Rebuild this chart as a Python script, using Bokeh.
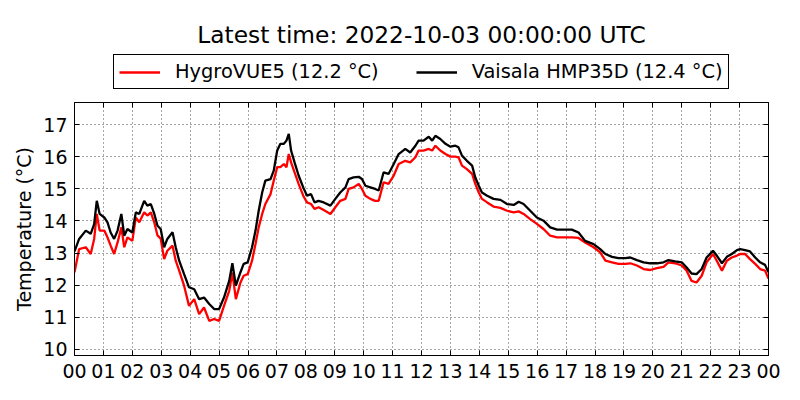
from bokeh.plotting import figure
from bokeh.models import Legend, LegendItem, Label, LinearAxis, FixedTicker, Range1d
from bokeh.layouts import column
from bokeh.embed import file_html
from bokeh.resources import INLINE

# ---- data (hours since 2022-10-02 00:00 UTC) ----
hours = [
    0.00, 0.16, 0.39, 0.56, 0.68, 0.77, 0.87, 1.03, 1.14, 1.25,
    1.37, 1.49, 1.62, 1.72, 1.83, 2.00, 2.12, 2.24, 2.41, 2.52,
    2.64, 2.76, 2.87, 2.98, 3.10, 3.21, 3.39, 3.50, 3.62, 3.79,
    3.96, 4.14, 4.31, 4.48, 4.66, 4.83, 5.00, 5.17, 5.35, 5.46,
    5.58, 5.74, 5.85, 5.99, 6.14, 6.26, 6.37, 6.49, 6.60, 6.78,
    6.89, 7.01, 7.12, 7.24, 7.33, 7.41, 7.49, 7.61, 7.75, 7.91,
    8.04, 8.18, 8.30, 8.44, 8.62, 8.85, 9.02, 9.19, 9.37, 9.48,
    9.65, 9.83, 9.94, 10.06, 10.23, 10.40, 10.52, 10.69, 10.86, 11.04,
    11.21, 11.44, 11.61, 11.79, 11.90, 12.07, 12.25, 12.37, 12.48, 12.65,
    12.83, 13.00, 13.17, 13.28, 13.40, 13.57, 13.75, 13.86, 13.98, 14.09,
    14.27, 14.49, 14.73, 14.96, 15.19, 15.36, 15.53, 15.76, 15.99, 16.22,
    16.45, 16.69, 16.91, 17.20, 17.43, 17.66, 17.95, 18.18, 18.36, 18.59,
    18.81, 19.05, 19.22, 19.45, 19.68, 19.91, 20.14, 20.37, 20.54, 20.77,
    21.00, 21.17, 21.34, 21.51, 21.69, 21.86, 22.08, 22.21, 22.39, 22.56,
    22.73, 22.91, 23.02, 23.19, 23.36, 23.54, 23.71, 23.88, 24.00,
]

hygrovue5 = [
    12.40, 13.12, 13.18, 12.97, 13.44, 14.22, 13.70, 13.70, 13.49, 13.23,
    12.97, 13.33, 13.80, 13.18, 13.49, 13.38, 14.11, 13.96, 14.27, 14.17,
    14.27, 13.95, 13.55, 13.45, 12.81, 13.07, 13.23, 12.76, 12.45, 11.98,
    11.35, 11.56, 11.09, 11.30, 10.88, 10.94, 10.88, 11.35, 11.82, 12.39,
    11.56, 12.08, 12.29, 12.34, 12.76, 13.28, 13.80, 14.22, 14.53, 14.84,
    15.26, 15.68, 15.68, 15.78, 15.68, 16.09, 15.83, 15.52, 15.16, 14.79,
    14.58, 14.53, 14.38, 14.43, 14.34, 14.22, 14.43, 14.63, 14.69, 15.00,
    15.05, 15.16, 15.00, 14.79, 14.69, 14.63, 14.63, 15.21, 15.16, 15.42,
    15.78, 15.88, 15.83, 15.99, 16.20, 16.20, 16.25, 16.20, 16.35, 16.20,
    16.09, 16.01, 16.01, 15.99, 15.73, 15.62, 15.47, 15.16, 14.89, 14.69,
    14.58, 14.45, 14.41, 14.32, 14.27, 14.30, 14.22, 14.06, 13.91, 13.75,
    13.54, 13.49, 13.49, 13.49, 13.47, 13.33, 13.18, 13.02, 12.76, 12.71,
    12.66, 12.66, 12.68, 12.61, 12.50, 12.47, 12.53, 12.57, 12.71, 12.68,
    12.61, 12.45, 12.13, 12.08, 12.29, 12.71, 12.97, 12.76, 12.45, 12.76,
    12.86, 12.92, 12.97, 12.97, 12.81, 12.66, 12.50, 12.45, 12.20,
]

vaisala_hmp35d = [
    13.05, 13.44, 13.70, 13.60, 13.90, 14.63, 14.22, 14.11, 13.96, 13.64,
    13.44, 13.70, 14.22, 13.54, 13.75, 13.64, 14.27, 14.22, 14.63, 14.48,
    14.53, 14.22, 13.85, 13.75, 13.18, 13.44, 13.65, 13.18, 12.76, 12.34,
    11.93, 11.87, 11.56, 11.61, 11.41, 11.25, 11.25, 11.61, 12.13, 12.68,
    11.98, 12.40, 12.66, 12.71, 13.18, 13.70, 14.32, 14.89, 15.26, 15.31,
    15.57, 16.20, 16.41, 16.41, 16.51, 16.72, 16.20, 15.83, 15.42, 15.05,
    14.79, 14.84, 14.58, 14.63, 14.58, 14.48, 14.69, 14.89, 15.05, 15.31,
    15.36, 15.38, 15.31, 15.10, 15.05, 15.00, 14.95, 15.52, 15.47, 15.78,
    16.09, 16.25, 16.14, 16.35, 16.51, 16.51, 16.63, 16.51, 16.66, 16.56,
    16.41, 16.32, 16.35, 16.30, 16.04, 15.88, 15.73, 15.36, 15.10, 14.89,
    14.79, 14.69, 14.66, 14.53, 14.50, 14.60, 14.53, 14.32, 14.11, 14.01,
    13.80, 13.73, 13.73, 13.73, 13.64, 13.38, 13.28, 13.12, 12.97, 12.88,
    12.84, 12.84, 12.86, 12.78, 12.71, 12.68, 12.68, 12.71, 12.78, 12.74,
    12.71, 12.55, 12.36, 12.34, 12.50, 12.86, 13.07, 12.92, 12.68, 12.88,
    12.97, 13.09, 13.12, 13.09, 13.05, 12.86, 12.71, 12.63, 12.40,
]

x_ticks = list(range(0, 25))
x_tick_labels = {h: f"{h % 24:02d}" for h in x_ticks}
y_ticks = [10, 11, 12, 13, 14, 15, 16, 17]
title_text = "Latest time: 2022-10-03 00:00:00 UTC"
name_a = "HygroVUE5"
name_b = "Vaisala HMP35D"

FONT = "DejaVu Sans"
TICK_SIZE = "19px"
HEADER_H = 92
FRAME_L, FRAME_R = 74, 768   # page pixels of the plot frame

# ---------------- main plot ----------------
p = figure(width=800, height=400 - HEADER_H, output_backend="svg", toolbar_location=None,
           title=None,
           x_range=Range1d(0, 24), y_range=Range1d(9.8, 17.7),
           min_border_left=FRAME_L, min_border_right=800 - FRAME_R,
           min_border_top=10, min_border_bottom=45)
p.background_fill_color = "white"
p.border_fill_color = "white"
p.outline_line_color = "black"
p.outline_line_width = 1
p.outline_line_alpha = 1

def style_axis(ax, labels=True):
    ax.axis_line_color = "black"
    ax.axis_line_width = 1
    ax.major_tick_line_color = "black"
    ax.major_tick_in = 5
    ax.major_tick_out = 0
    ax.minor_tick_line_color = None
    ax.major_label_text_font = FONT
    ax.major_label_text_color = "black"
    ax.major_label_text_font_size = TICK_SIZE if labels else "1px"

xt = FixedTicker(ticks=x_ticks)
yt = FixedTicker(ticks=y_ticks)

p.xaxis.ticker = xt
p.xaxis.major_label_overrides = x_tick_labels
p.xaxis.major_label_standoff = 8
p.yaxis.ticker = yt
p.yaxis.major_label_standoff = 7
p.yaxis.axis_label = "Temperature (°C)"
p.yaxis.axis_label_text_font = FONT
p.yaxis.axis_label_text_font_size = "19px"
p.yaxis.axis_label_text_font_style = "normal"
p.yaxis.axis_label_text_color = "black"
p.yaxis.axis_label_standoff = 5
for ax in p.xaxis + p.yaxis:
    style_axis(ax)

# mirrored ticks on the right and top (no labels)
right_ax = LinearAxis(ticker=yt, major_label_overrides={t: "" for t in y_ticks},
                      major_label_standoff=0)
style_axis(right_ax, labels=False)
p.add_layout(right_ax, "right")
top_ax = LinearAxis(ticker=xt, major_label_overrides={t: "" for t in x_ticks},
                    major_label_standoff=0)
style_axis(top_ax, labels=False)
p.add_layout(top_ax, "above")

p.xgrid.ticker = xt
p.ygrid.ticker = yt
p.grid.grid_line_color = "black"
p.grid.grid_line_dash = "1 3"
p.grid.grid_line_alpha = 0.7
p.grid.grid_line_width = 1

r_a = p.line(hours, hygrovue5, line_color="red", line_width=2.3)
r_b = p.line(hours, vaisala_hmp35d, line_color="black", line_width=2.3)

# ---------------- header: title + legend ----------------
# the column aligns this frame with the plot frame, so map data x to page x
h = figure(width=800, height=HEADER_H, output_backend="svg", toolbar_location=None,
           title=None, x_axis_type=None, y_axis_type=None,
           x_range=Range1d(FRAME_L, FRAME_R), y_range=Range1d(HEADER_H, 0),
           min_border=0)
h.outline_line_color = None
h.background_fill_color = "white"
h.border_fill_color = "white"

nan = float("nan")
key_a = h.line(x=[nan, nan], y=[nan, nan], line_color="red", line_width=2.3)
key_b = h.line(x=[nan, nan], y=[nan, nan], line_color="black", line_width=2.3)

h.add_layout(Label(x=421, y=34, text=title_text, text_align="center",
                   text_baseline="alphabetic", text_font=FONT,
                   text_font_size="23.3px", text_color="black"))

legend = Legend(items=[
    LegendItem(label=f"{name_a} ({hygrovue5[-1]:.1f} °C)", renderers=[key_a]),
    LegendItem(label=f"{name_b} ({vaisala_hmp35d[-1]:.1f} °C)", renderers=[key_b]),
], orientation="horizontal", location=(113 - FRAME_L, 3),
    glyph_width=41, glyph_height=20, label_standoff=15, spacing=37,
    padding=5, margin=0, border_line_color="black", border_line_width=1,
    border_line_alpha=1, label_text_font=FONT, label_text_font_size="19.4px",
    label_text_color="black", background_fill_color="white", background_fill_alpha=1)
h.add_layout(legend, "center")

layout = column(h, p, spacing=0)
open("out.html", "w").write(file_html(layout, INLINE))
